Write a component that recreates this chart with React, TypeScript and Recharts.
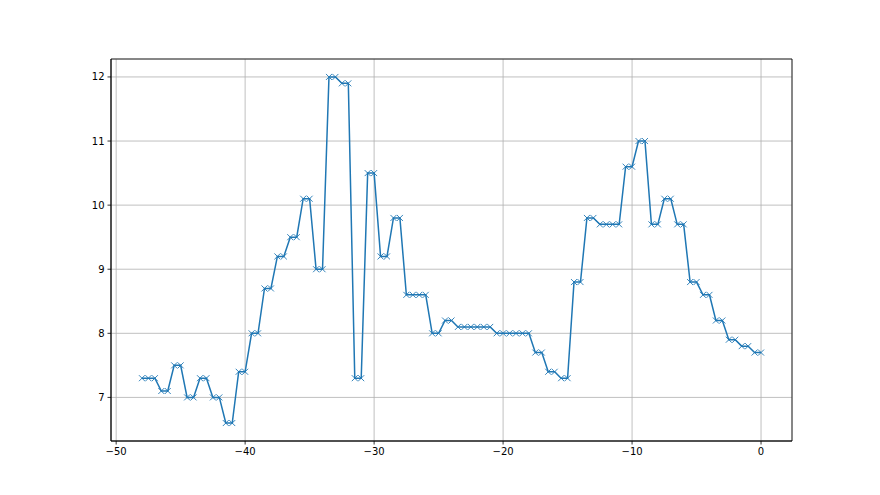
import React from 'react';
import {
  LineChart,
  Line,
  XAxis,
  YAxis,
  CartesianGrid,
  ReferenceArea,
} from 'recharts';

// hours back (step 0.5) and reading at each step
const hours = [
  -48, -47.5, -47, -46.5, -46, -45.5, -45, -44.5, -44, -43.5, -43, -42.5, -42,
  -41.5, -41, -40.5, -40, -39.5, -39, -38.5, -38, -37.5, -37, -36.5, -36,
  -35.5, -35, -34.5, -34, -33.5, -33, -32.5, -32, -31.5, -31, -30.5, -30,
  -29.5, -29, -28.5, -28, -27.5, -27, -26.5, -26, -25.5, -25, -24.5, -24,
  -23.5, -23, -22.5, -22, -21.5, -21, -20.5, -20, -19.5, -19, -18.5, -18,
  -17.5, -17, -16.5, -16, -15.5, -15, -14.5, -14, -13.5, -13, -12.5, -12,
  -11.5, -11, -10.5, -10, -9.5, -9, -8.5, -8, -7.5, -7, -6.5, -6, -5.5, -5,
  -4.5, -4, -3.5, -3, -2.5, -2, -1.5, -1, -0.5, 0,
];

const values = [
  7.3, 7.3, 7.3, 7.1, 7.1, 7.5, 7.5, 7.0, 7.0, 7.3, 7.3, 7.0, 7.0,
  6.6, 6.6, 7.4, 7.4, 8.0, 8.0, 8.7, 8.7, 9.2, 9.2, 9.5, 9.5,
  10.1, 10.1, 9.0, 9.0, 12.0, 12.0, 11.9, 11.9, 7.3, 7.3, 10.5, 10.5,
  9.2, 9.2, 9.8, 9.8, 8.6, 8.6, 8.6, 8.6, 8.0, 8.0, 8.2, 8.2,
  8.1, 8.1, 8.1, 8.1, 8.1, 8.1, 8.0, 8.0, 8.0, 8.0, 8.0, 8.0,
  7.7, 7.7, 7.4, 7.4, 7.3, 7.3, 8.8, 8.8, 9.8, 9.8, 9.7, 9.7,
  9.7, 9.7, 10.6, 10.6, 11.0, 11.0, 9.7, 9.7, 10.1, 10.1, 9.7, 9.7, 8.8, 8.8,
  8.6, 8.6, 8.2, 8.2, 7.9, 7.9, 7.8, 7.8, 7.7, 7.7,
];

const xTicks = [-50, -40, -30, -20, -10, 0];
const yTicks = [7, 8, 9, 10, 11, 12];

const X_DOMAIN: [number, number] = [-50.4, 2.4];
const Y_DOMAIN: [number, number] = [6.32, 12.28];

const data = hours.map((h, i) => ({ h, v: values[i] }));

const BLUE = '#1f77b4';
const tickStyle = { fill: '#000', fontSize: 10, fontFamily: 'DejaVu Sans' };
const fmt = (v: number) => String(v).replace('-', '\u2212');

const XMarker = (props: any) => {
  const { cx, cy } = props;
  if (cx == null || cy == null) return null;
  const s = 3;
  return (
    <g>
      <line x1={cx - s} y1={cy - s} x2={cx + s} y2={cy + s} stroke={BLUE} strokeWidth={0.9} />
      <line x1={cx - s} y1={cy + s} x2={cx + s} y2={cy - s} stroke={BLUE} strokeWidth={0.9} />
    </g>
  );
};

export default function App() {
  return (
    <div style={{ position: 'absolute', left: 0, top: 0, width: 880, height: 495, background: '#fff' }}>
      <LineChart
        width={880}
        height={495}
        data={data}
        margin={{ top: 59, right: 88, bottom: 24, left: 71 }}
      >
        <CartesianGrid stroke="#b0b0b0" strokeWidth={0.8} />
        <XAxis
          dataKey="h"
          type="number"
          domain={X_DOMAIN}
          ticks={xTicks}
          allowDataOverflow
          height={30}
          tickFormatter={fmt}
          tick={tickStyle}
          tickSize={3.5}
          tickMargin={3}
          axisLine={{ stroke: '#000', strokeWidth: 0.8 }}
          tickLine={{ stroke: '#000', strokeWidth: 0.8 }}
        />
        <YAxis
          type="number"
          domain={Y_DOMAIN}
          ticks={yTicks}
          allowDataOverflow
          width={40}
          tick={tickStyle}
          tickSize={3.5}
          tickMargin={3}
          axisLine={{ stroke: '#000', strokeWidth: 0.8 }}
          tickLine={{ stroke: '#000', strokeWidth: 0.8 }}
        />
        {/* axes frame (top and right spines) */}
        <ReferenceArea
          x1={X_DOMAIN[0]}
          x2={X_DOMAIN[1]}
          y1={Y_DOMAIN[0]}
          y2={Y_DOMAIN[1]}
          fill="none"
          fillOpacity={0}
          stroke="#000"
          strokeWidth={0.8}
          ifOverflow="visible"
        />
        <Line
          dataKey="v"
          type="linear"
          stroke={BLUE}
          strokeWidth={1.5}
          dot={<XMarker />}
          activeDot={false}
          isAnimationActive={false}
        />
      </LineChart>
    </div>
  );
}
